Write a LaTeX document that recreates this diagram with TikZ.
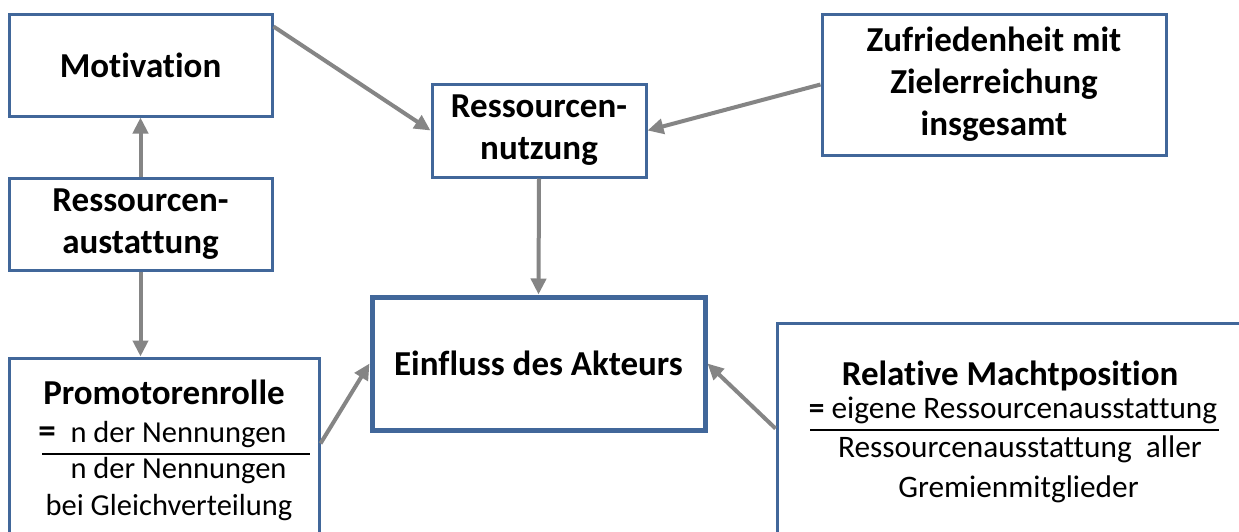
\documentclass[tikz,border=0pt]{standalone}
\usepackage{fontspec}
\setmainfont{Carlito}[RawFeature={-liga;-clig;-calt;-dlig}]
\usetikzlibrary{arrows.meta,calc}
\definecolor{boxblue}{HTML}{41679A}
\definecolor{arrgray}{HTML}{858585}
\tikzset{
  box/.style={draw=boxblue, line width=3pt, fill=white, rectangle, inner sep=0pt, align=center,
              font=\fontsize{35pt}{42pt}\selectfont\bfseries},
  bigbox/.style={box, line width=5pt},
  arr/.style={draw=arrgray, line width=4pt, -{Triangle[length=16pt,width=15pt]}},
  txt/.style={anchor=base, inner sep=0pt, font=\fontsize{30.5pt}{36pt}\selectfont},
  rtxt/.style={txt, font=\fontsize{31.3pt}{36pt}\selectfont},
  btxt/.style={anchor=base, inner sep=0pt, font=\fontsize{35pt}{42pt}\selectfont\bfseries},
  frac/.style={draw=black, line width=1.5pt}
}
\begin{document}
\begin{tikzpicture}[x=1pt,y=-1pt]
\useasboundingbox (0,0) rectangle (1239,531);
\clip (0,0) rectangle (1239,531);
\fill[white] (0,0) rectangle (1239,531);
% boxes
\node[box, minimum width=263pt, minimum height=102pt] (mot) at (140.5,65) {Motivation};
\node[box, minimum width=263pt, minimum height=92pt] (ress) at (140.5,224) {Ressourcen-\\austattung};
\node[box, minimum width=310pt, minimum height=190pt] (prom) at (164,453) {};
\node[box, minimum width=214pt, minimum height=93pt] (nutz) at (539,130.5) {Ressourcen-\\nutzung};
\node[box, minimum width=344pt, minimum height=141pt] (zuf) at (994,84.5) {Zufriedenheit mit\\Zielerreichung\\insgesamt};
\node[bigbox, minimum width=333pt, minimum height=133pt] (ein) at (538.5,363.5) {Einfluss des Akteurs};
\node[box, minimum width=480pt, minimum height=230pt] (rel) at (1017,438) {};
% Promotorenrolle text
\node[btxt] (promt) at (164,404) {Promotorenrolle};
\node[btxt] (promeq) at (47,442) {=};
\node[txt] (promn1) at (178.5,442) {n der Nennungen};
\draw[frac] (42,454) -- (310,454);
\node[txt] (promn2) at (178.5,478) {n der Nennungen};
\node[txt] (promg) at (169,515) {bei Gleichverteilung};
% Relative Machtposition text
\node[btxt] (relt) at (1010,385) {Relative Machtposition};
\node[rtxt] (releq) at (1013,418) {\textbf{=} eigene Ressourcenausstattung};
\draw[frac] (810,430) -- (1219,430);
\node[rtxt] (rela) at (1020,457) {Ressourcenausstattung\ \ aller};
\node[rtxt] (relg) at (1018.5,497) {Gremienmitglieder};
% connectors
\draw[arr] ($(mot.north east)+(0,14)$) -- (nutz.west);
\draw[arr] (zuf.west) -- (nutz.east);
\draw[arr] (nutz.south) -- (ein.north);
\draw[arr] (ress.north) -- (mot.south);
\draw[arr] (ress.south) -- (ress.south |- prom.north);
\draw[arr] ($(prom.north east)+(0,87)$) -- (ein.west);
\draw[arr] ($(rel.north west)+(0,107)$) -- (ein.east);
\end{tikzpicture}
\end{document}
